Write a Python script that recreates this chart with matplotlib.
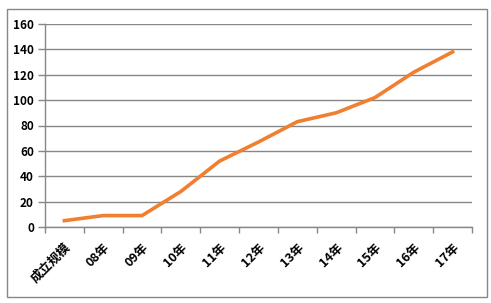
import matplotlib.pyplot as plt
from matplotlib.patches import Rectangle
import numpy as np

plt.rcParams['font.family'] = ['Noto Sans CJK SC', 'DejaVu Sans']

# categories and values
categories = ['成立规模', '08年', '09年', '10年', '11年', '12年',
              '13年', '14年', '15年', '16年', '17年']
values = [5, 9, 9, 28, 52, 67, 83, 90, 102, 122, 138]
yticks = [0, 20, 40, 60, 80, 100, 120, 140, 160]

grey = '#878787'

fig = plt.figure(figsize=(4.91, 3.03), dpi=100)
ax = fig.add_axes([45/491, 76/303, 427/491, 203/303])

x = np.arange(len(categories))
ax.plot(x, values, color='#F07F30', lw=2.6, solid_joinstyle='round')

ax.set_xlim(-0.5, len(categories) - 0.5)
ax.set_ylim(0, 160)
ax.set_yticks(yticks)
ax.set_yticklabels([str(v) for v in yticks], fontsize=8.5, fontweight='bold')
ax.yaxis.grid(True, color=grey, lw=1)
ax.set_axisbelow(True)

ax.set_xticks(x)
ax.set_xticklabels(categories, fontsize=9, fontweight='bold', rotation=45,
                   ha='right', va='top', rotation_mode='anchor')
ax.set_xticks(np.arange(len(categories) + 1) - 0.5, minor=True)
ax.tick_params(axis='x', which='major', length=0, pad=10)
ax.tick_params(axis='x', which='minor', length=4, color=grey, width=1)
ax.tick_params(axis='y', length=5, color=grey, width=1, pad=3)

for s in ['top', 'right']:
    ax.spines[s].set_visible(False)
for s in ['left', 'bottom']:
    ax.spines[s].set_color(grey)
    ax.spines[s].set_linewidth(1)

# outer chart border
fig.patches.append(Rectangle((7/491, 6/303), 480/491, 288/303,
                             transform=fig.transFigure, fill=False,
                             edgecolor=grey, lw=1))

plt.savefig('out.png', dpi=100)
